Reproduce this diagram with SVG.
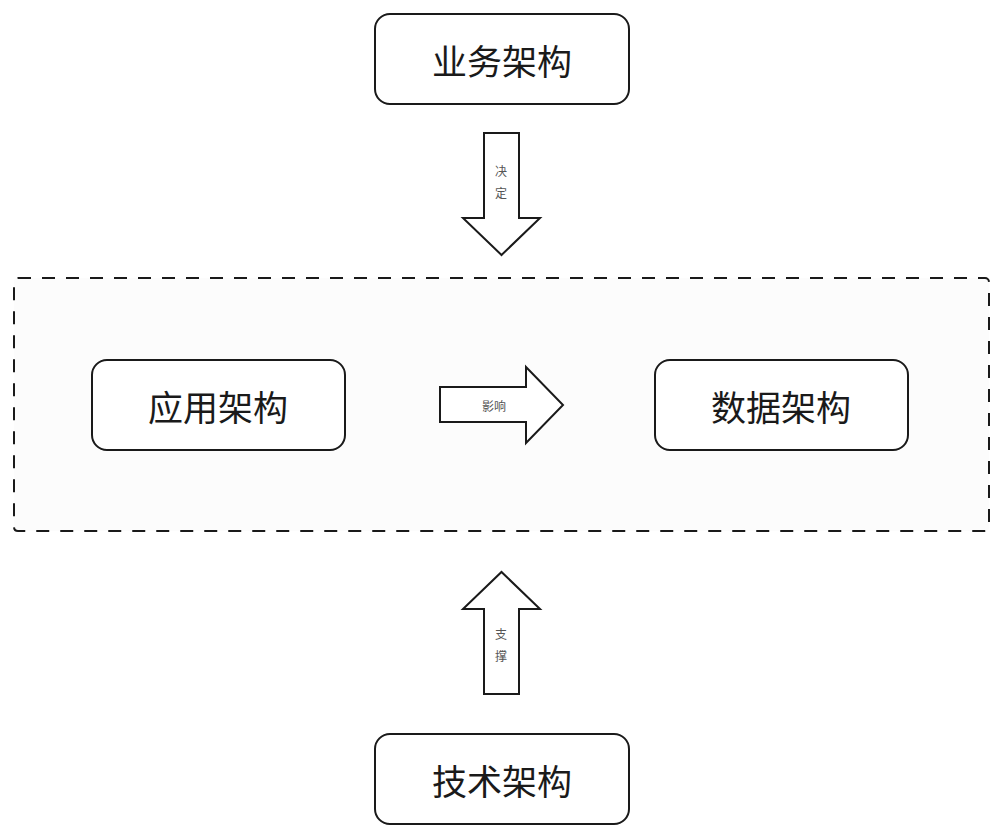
<svg xmlns="http://www.w3.org/2000/svg" width="1004" height="839" viewBox="0 0 1004 839">
<style>
.box{fill:#fff;stroke:#1a1a1a;stroke-width:2}
.big{font-family:"Noto Sans CJK SC","Noto Sans",sans-serif;font-size:35px;fill:#1a1a1a;text-anchor:middle;dominant-baseline:central}
.arr{fill:#fff;stroke:#1a1a1a;stroke-width:2;stroke-linejoin:miter}
.lbl{font-family:"Noto Sans CJK SC","Noto Sans",sans-serif;font-size:12px;fill:#555;text-anchor:middle;dominant-baseline:central}
</style>
<rect width="1004" height="839" fill="#fff"/>
<g id="container">
<rect x="14" y="278" width="975" height="253" rx="4" fill="#fcfcfc" stroke="#1a1a1a" stroke-width="2" stroke-dasharray="13 11"/>
</g>
<g id="connectors">
<g id="arrow-decide">
<polygon class="arr" points="484,133 519,133 519,218 540,218 501.5,255 463,218 484,218"/>
<text class="lbl" x="501" y="170">决</text>
<text class="lbl" x="501" y="192">定</text>
</g>
<g id="arrow-influence">
<polygon class="arr" points="440,387 526,387 526,367 563,405 526,443 526,422 440,422"/>
<text class="lbl" x="494" y="405">影响</text>
</g>
<g id="arrow-support">
<polygon class="arr" points="484,694 519,694 519,609 540,609 501.5,572 463,609 484,609"/>
<text class="lbl" x="501" y="633">支</text>
<text class="lbl" x="501" y="655">撑</text>
</g>
</g>
<g id="business">
<rect class="box" x="375" y="14" width="254" height="90" rx="15"/>
<text class="big" x="502" y="59">业务架构</text>
</g>
<g id="application">
<rect class="box" x="92" y="360" width="253" height="90" rx="15"/>
<text class="big" x="218" y="405">应用架构</text>
</g>
<g id="data">
<rect class="box" x="655" y="360" width="253" height="90" rx="15"/>
<text class="big" x="781" y="405">数据架构</text>
</g>
<g id="technology">
<rect class="box" x="375" y="734" width="254" height="90" rx="15"/>
<text class="big" x="502" y="779">技术架构</text>
</g>
</svg>
